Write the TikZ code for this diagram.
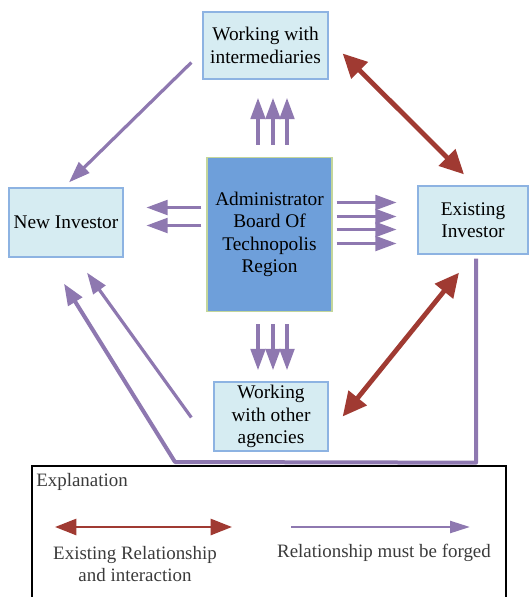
\documentclass[tikz,border=0pt]{standalone}
\usepackage{fontspec}
\setmainfont{Liberation Serif}
\usetikzlibrary{arrows.meta,calc}
\definecolor{boxfill}{HTML}{D6ECF2}
\definecolor{boxline}{HTML}{8DB3E2}
\definecolor{adminfill}{HTML}{6E9FDA}
\definecolor{adminline}{HTML}{C3D69B}
\definecolor{forge}{HTML}{8E78B0}
\definecolor{exist}{HTML}{A03A32}
\definecolor{legtext}{HTML}{3A3A3A}
\tikzset{
  party/.style={draw=boxline, line width=1pt, fill=boxfill, inner sep=0pt,
    align=center, font=\fontsize{14.5}{16.8}\selectfont},
  board/.style={draw=adminline, line width=1pt, fill=adminfill, inner sep=0pt,
    align=center, font=\fontsize{14.5}{16.8}\selectfont},
  forged/.style={draw=forge, line width=2.4pt,
    -{Triangle[length=16pt,width=11pt]}},
  forgedthick/.style={draw=forge, line width=3pt,
    -{Triangle[length=16pt,width=12pt]}},
  existing/.style={draw=exist, line width=3.6pt,
    {Triangle[length=18pt,width=17pt]}-{Triangle[length=18pt,width=17pt]}},
  legtxt/.style={text=legtext, font=\fontsize{14.2}{16.5}\selectfont, align=center, inner sep=0pt},
}
\begin{document}
\begin{tikzpicture}[x=0.75pt,y=-0.75pt]
\useasboundingbox (0,0) rectangle (530,597);

% parties around the board
\node[party, minimum width=93.75pt, minimum height=50.25pt] (inter) at (265.5,45.5) {Working with\\intermediaries};
\node[party, minimum width=85.5pt, minimum height=51.75pt] (newinv) at (66,222.5) {New Investor};
\node[party, minimum width=82.5pt, minimum height=51pt] (exinv) at (473,220) {Existing\\Investor};
\node[party, minimum width=85.5pt, minimum height=51.75pt] (agency) at (271,416.5) {Working\\with other\\agencies};
\node[board, minimum width=93.75pt, minimum height=115.5pt] (admin) at (269.5,234.5) {Administrator\\Board Of\\Technopolis\\Region};

% bundles of arrows leaving the board
\foreach \dx in {-11.5,3.5,17.5} {
  \draw[forged] ($(admin.north)+(\dx,-12)$) -- ++(0,-47);
  \draw[forged] ($(admin.south)+(\dx,12)$) -- ++(0,46);
}
\foreach \dy in {-27,-9} {
  \draw[forged] ($(admin.west)+(-5,\dy)$) -- ++(-55,0);
}
\foreach \dy in {-32,-18,-5,9} {
  \draw[forged] ($(admin.east)+(4,\dy)$) -- ++(60,0);
}

% relationships still to be forged
\draw[forged] ($(inter.west)+(-11,17)$) -- ($(newinv.north)+(3,-5)$);
\draw[forged] ($(agency.west)+(-22,1)$) -- ($(newinv.south)+(21,15)$);
\coordinate (turnR) at ($(exinv.south)+(3,208)$);
\coordinate (turnL) at (175,462);
\draw[forgedthick, line join=round] ($(exinv.south)+(3,4)$) -- (turnR) -- (turnL) -- ($(newinv.south)+(-2,26)$);

% existing relationships
\draw[existing] ($(inter.east)+(14,8)$) -- ($(exinv.north)+(-9,-11)$);
\draw[existing] ($(exinv.south)+(-14,18)$) -- ($(agency.east)+(14,0)$);

% legend
\node[draw=black, line width=1.2pt, minimum width=355.5pt, minimum height=108.75pt, anchor=north west] (legend) at (31,465) {};
\node[legtxt, anchor=west] (expl) at ($(legend.north west)+(5,17)$) {Explanation};
\coordinate (exA) at ($(legend.north west)+(24,62)$);
\coordinate (exB) at ($(legend.north west)+(201,62)$);
\coordinate (fgA) at ($(legend.north west)+(260,62)$);
\coordinate (fgB) at ($(legend.north west)+(439,62)$);
\draw[draw=exist, line width=2pt, {Triangle[length=16pt,width=12pt]}-{Triangle[length=16pt,width=12pt]}] (exA) -- (exB);
\draw[draw=forge, line width=1.8pt, -{Triangle[length=15pt,width=9pt]}] (fgA) -- (fgB);
\node[legtxt] (exlab) at ($(legend.north west)+(104,99)$) {Existing Relationship\\and interaction};
\node[legtxt] (fglab) at ($(legend.north west)+(353,88)$) {Relationship must be forged};
\end{tikzpicture}
\end{document}
